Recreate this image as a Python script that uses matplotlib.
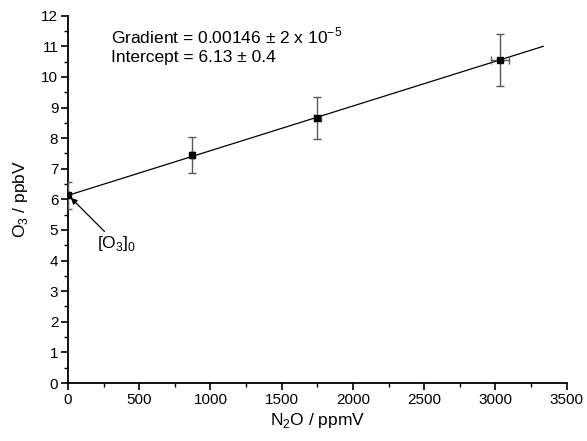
import numpy as np
import matplotlib
matplotlib.use("Agg")
from matplotlib import pyplot as plt

plt.rcParams["font.family"] = ["Liberation Sans", "DejaVu Sans"]
plt.rcParams["mathtext.fontset"] = "custom"
plt.rcParams["mathtext.rm"] = "Liberation Sans"

# measured points
n2o = [0, 873, 1751, 3034]
n2o_err = [0, 10, 25, 62]
o3 = [6.13, 7.45, 8.65, 10.56]
o3_err = [0.45, 0.6, 0.69, 0.85]

# fit
gradient = 0.00146
intercept = 6.13
fit_x = [0, 3335]

xticks = [0, 500, 1000, 1500, 2000, 2500, 3000, 3500]
yticks = list(range(0, 13))

fig = plt.figure(figsize=(5.87, 4.41), dpi=100)
ax = fig.add_axes([0.1158, 0.1315, 0.8496, 0.8329])

fx = np.array(fit_x)
ax.plot(fx, intercept + gradient * fx, color="k", lw=0.9, zorder=2)
eb = ax.errorbar(n2o, o3, xerr=n2o_err, yerr=o3_err, fmt="s", ms=4.5, mfc="k", mec="k",
                 ecolor="0.35", elinewidth=1.0, capsize=3, capthick=1.0, zorder=3)
# caps at x=0 are cut by the axis, as in the original
for cap in eb[1]:
    cap.set_clip_on(True)
    cap.set_clip_box(ax.bbox)

ax.set_xlim(0, 3500)
ax.set_ylim(0, 12)
ax.set_xticks(xticks)
ax.set_yticks(yticks)
ax.set_xticks(np.arange(250, 3500, 500), minor=True)
ax.set_yticks(np.arange(0.5, 12, 1), minor=True)
for s in ["top", "right"]:
    ax.spines[s].set_visible(False)
for s in ["left", "bottom"]:
    ax.spines[s].set_linewidth(1.3)
ax.tick_params(which="major", direction="out", length=5, width=1.2, labelsize=11, pad=2)
ax.tick_params(which="minor", direction="out", length=3, width=1.0)

ax.set_xlabel("N$_2$O / ppmV", fontsize=12.5, labelpad=3)
ax.set_ylabel("O$_3$ / ppbV", fontsize=12.5, labelpad=8)

ax.text(302, 11.34, "Gradient = 0.00146 \u00b1 2 x 10$^{-5}$", fontsize=12.5, va="center")
ax.text(302, 10.65, "Intercept = 6.13 \u00b1 0.4", fontsize=12.5, va="center")

ax.annotate("[O$_3$]$_0$", xy=(20, 6.05), xytext=(205, 4.55), fontsize=12.5,
            va="center", ha="left",
            arrowprops=dict(arrowstyle="-|>", color="k", lw=0.9, shrinkA=0, shrinkB=0,
                            mutation_scale=9))

fig.savefig("out.png", dpi=100)
